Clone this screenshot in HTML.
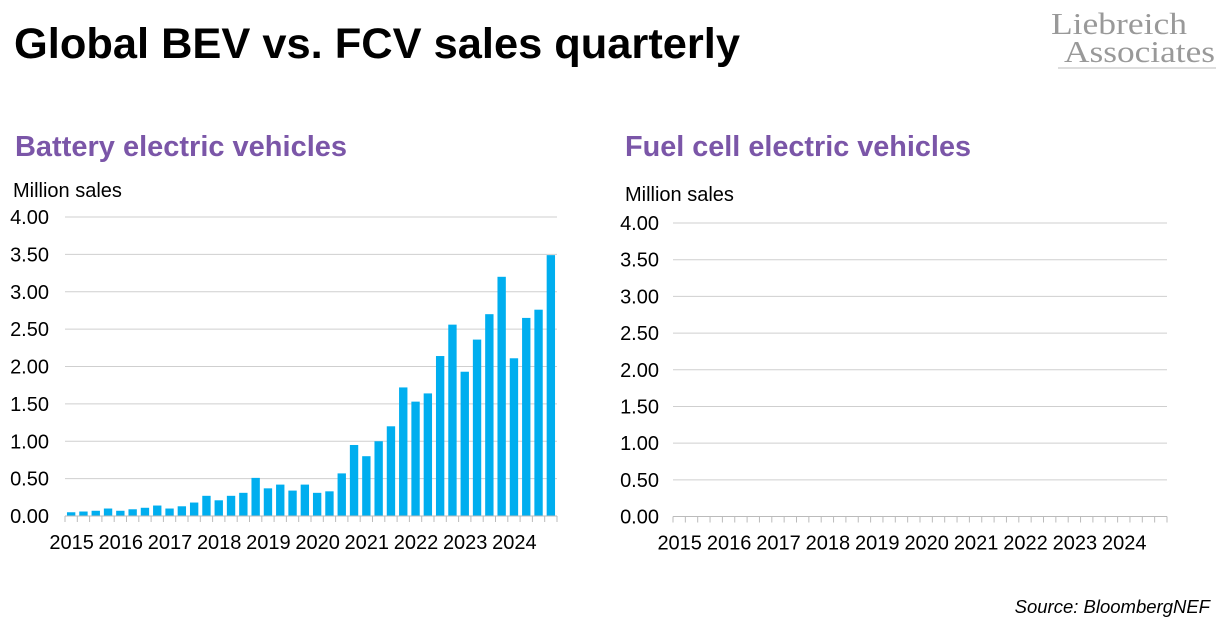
<!DOCTYPE html>
<html><head><meta charset="utf-8"><style>
body{margin:0;background:#fff;font-family:"Liberation Sans",Arial,sans-serif;}
svg text{font-family:"Liberation Sans",Arial,sans-serif;}
</style></head><body>
<svg id="c" width="1224" height="622" viewBox="0 0 1224 622" xmlns="http://www.w3.org/2000/svg">
<text x="14" y="58" font-size="43" font-weight="bold" fill="#000" textLength="726" lengthAdjust="spacingAndGlyphs">Global BEV vs. FCV sales quarterly</text>
<text x="1051" y="34" font-size="31" fill="#999" textLength="136" lengthAdjust="spacingAndGlyphs" style="font-family:'Liberation Serif',serif">Liebreich</text>
<text x="1064" y="62" font-size="31" fill="#999" textLength="151" lengthAdjust="spacingAndGlyphs" style="font-family:'Liberation Serif',serif">Associates</text>
<line x1="1058" y1="68" x2="1216" y2="68" stroke="#bbb" stroke-width="1"/>
<text x="15" y="156" font-size="29" font-weight="bold" fill="#7b56a8" textLength="332" lengthAdjust="spacingAndGlyphs">Battery electric vehicles</text>
<text x="625" y="156" font-size="29" font-weight="bold" fill="#7b56a8" textLength="346" lengthAdjust="spacingAndGlyphs">Fuel cell electric vehicles</text>
<text x="13" y="197" font-size="20" fill="#000">Million sales</text>
<text x="625" y="201" font-size="20" fill="#000">Million sales</text>
<text x="1210" y="613" font-size="18.5" font-style="italic" fill="#000" text-anchor="end">Source: BloombergNEF</text>
<g id="bev"></g>
<g id="fcv"></g>
</svg>
<script>
const years = ["2015","2016","2017","2018","2019","2020","2021","2022","2023","2024"];
const yTicks = [0,0.5,1,1.5,2,2.5,3,3.5,4];
const yTickLabels = ["0.00","0.50","1.00","1.50","2.00","2.50","3.00","3.50","4.00"];
const bevValues = [0.05,0.06,0.07,0.10, 0.07,0.09,0.11,0.14, 0.10,0.13,0.18,0.27, 0.21,0.27,0.31,0.51, 0.37,0.42,0.34,0.42, 0.31,0.33,0.57,0.95, 0.80,1.00,1.20,1.72, 1.53,1.64,2.14,2.56, 1.93,2.36,2.70,3.20, 2.11,2.65,2.76,3.49];
const fcvValues = [0.001,0.001,0.001,0.001, 0.001,0.001,0.001,0.001, 0.001,0.001,0.001,0.002, 0.001,0.001,0.002,0.003, 0.002,0.002,0.002,0.004, 0.002,0.002,0.002,0.003, 0.003,0.004,0.003,0.005, 0.003,0.004,0.004,0.004, 0.003,0.003,0.003,0.003, 0.002,0.002,0.002,0.002];
const NS="http://www.w3.org/2000/svg";
function mk(p,t,a){const e=document.createElementNS(NS,t);for(const k in a)e.setAttribute(k,a[k]);p.appendChild(e);return e;}
function draw(g,vals,x0,x1,y0,y4,labX,prefix){
  const n=vals.length, step=(x1-x0)/n;
  const ys=v=>y0-(v/4)*(y0-y4);
  yTicks.forEach((t,i)=>{
    if(t>0){const l=mk(g,'line',{x1:x0,x2:x1,y1:ys(t),y2:ys(t),stroke:'#cfcfcf','stroke-width':1});
    
    }
    const tx=mk(g,'text',{x:labX,y:ys(t)+7,'font-size':20,'text-anchor':'end',fill:'#000'});
    tx.textContent=yTickLabels[i];
    
    
  });
  vals.forEach((v,i)=>{
    const w=step*0.68, x=x0+i*step+(step-w)/2;
    const r=mk(g,'rect',{x:x,y:ys(v),width:w,height:y0-ys(v),fill:'#00aeef'});
    
    
  });
  const ax=mk(g,'line',{x1:x0,x2:x1,y1:y0,y2:y0,stroke:'#bbb','stroke-width':1});
  
  
  for(let i=0;i<=n;i++){
    const tk=mk(g,'line',{x1:x0+i*step,x2:x0+i*step,y1:y0,y2:y0+6,stroke:'#bbb','stroke-width':1});
    
    
  }
  years.forEach((yr,i)=>{
    const cx=x0+(i*4+2)*step-18;
    const tx=mk(g,'text',{x:cx,y:y0+33,'font-size':20,'text-anchor':'middle',fill:'#000'});
    tx.textContent=yr;
    
    
  });
}
draw(document.getElementById('bev'),bevValues,65,557,516,217,49,'bev');
draw(document.getElementById('fcv'),fcvValues,673,1167,516.5,223,659,'fcv');
</script>
</body></html>
